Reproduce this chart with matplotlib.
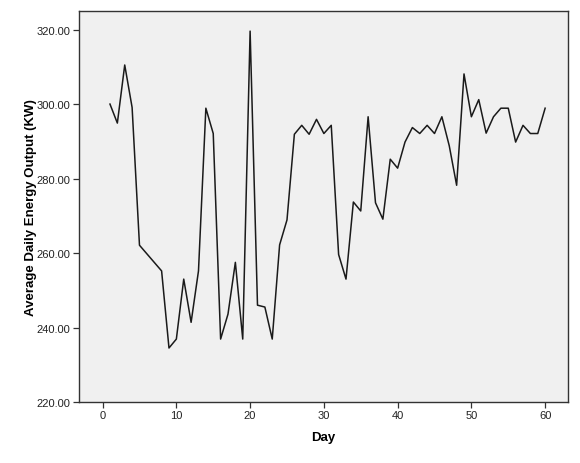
import numpy as np
import matplotlib.pyplot as plt

plt.rcParams['font.family'] = ['Liberation Sans', 'DejaVu Sans']

# ── Data ──────────────────────────────────────────────────────────────────────
days = [1, 2, 3, 4, 5, 8, 9, 10, 11, 12, 13, 14, 15, 16, 17, 18, 19, 20,
        21, 22, 23, 24, 25, 26, 27, 28, 29, 30, 31, 32, 33, 34, 35, 36, 37,
        38, 39, 40, 41, 42, 43, 44, 45, 46, 47, 48, 49, 50, 51, 52, 53, 54,
        55, 56, 57, 58, 59, 60]
output_kw = [300.0, 294.9, 310.5, 299.1, 262.1, 255.2, 234.5, 236.9, 253.0,
             241.4, 255.2, 298.9, 292.1, 236.9, 243.6, 257.5, 236.9, 319.6,
             246.0, 245.5, 236.9, 262.2, 268.9, 291.9, 294.3, 291.9, 295.9,
             292.1, 294.3, 259.6, 253.0, 273.7, 271.3, 296.6, 273.5, 269.1,
             285.2, 282.8, 289.8, 293.7, 292.1, 294.3, 292.1, 296.6, 288.8,
             278.2, 308.1, 296.6, 301.2, 292.2, 296.6, 298.9, 298.9, 289.8,
             294.3, 292.1, 292.1, 298.9]

x_ticks = [0, 10, 20, 30, 40, 50, 60]
y_ticks = [220, 240, 260, 280, 300, 320]

# ── Figure ────────────────────────────────────────────────────────────────────
fig = plt.figure(figsize=(5.8, 4.64), dpi=100)
ax = fig.add_axes([79 / 580, 1 - 403 / 464, (568 - 79) / 580, (403 - 12) / 464])
ax.set_facecolor('#f0f0f0')

ax.plot(days, output_kw, color='#1a1a1a', lw=1.1)

ax.set_xlim(-3.2, 63.1)
ax.set_ylim(220, 325)
ax.set_xticks(x_ticks)
ax.set_yticks(y_ticks)
ax.set_yticklabels([f"{v:.2f}" for v in y_ticks])
ax.tick_params(labelsize=8, length=4, width=0.9, colors='#333333',
               labelcolor='#222222', pad=2)

for sp in ax.spines.values():
    sp.set_color('#333333')
    sp.set_linewidth(1.0)

ax.set_xlabel("Day", fontsize=9.5, fontweight='bold', labelpad=8)
ax.set_ylabel("Average Daily Energy Output (KW)", fontsize=9.5,
              fontweight='bold', labelpad=0)

fig.savefig("out.png", dpi=100)
